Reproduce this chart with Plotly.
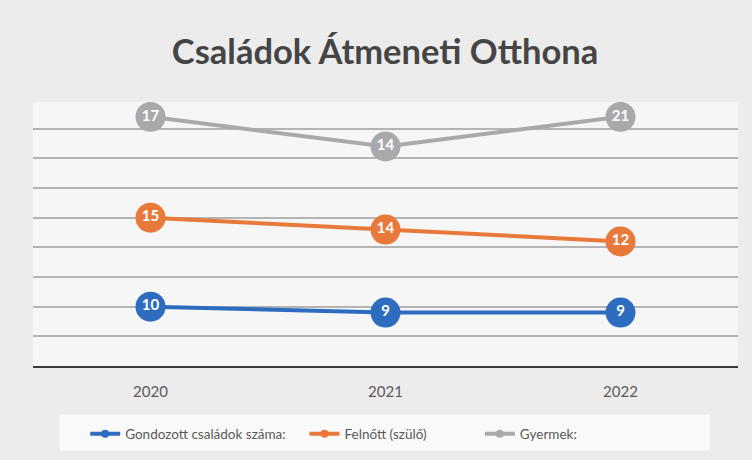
import plotly.graph_objects as go

years = ["2020", "2021", "2022"]
series_names = ["Gondozott családok száma:", "Felnőtt (szülő)", "Gyermek:"]
families = [10, 9, 9]
adults = [15, 14, 12]
children = [17, 14, 21]
colors = ["#2E6CC0", "#E8793A", "#A9A9AB"]
legend_pad = [4, 14, 0]

fig = go.Figure()
for name, vals, col in zip(series_names, [families, adults, children], colors):
    fig.add_trace(go.Scatter(
        x=years, y=vals, stackgroup="one", fill="none",
        mode="lines+markers+text",
        line=dict(color=col, width=4),
        marker=dict(size=30, color=col),
        text=[str(v) for v in vals], textposition="middle center",
        textfont=dict(family="Lato", size=15, color="white", weight="bold"),
        showlegend=False, hoverinfo="skip",
    ))
for name, col, pad in zip(series_names, colors, legend_pad):
    fig.add_trace(go.Scatter(
        x=[None], y=[None], mode="lines+markers", name=name + "\u00a0" * pad,
        line=dict(color=col, width=4), marker=dict(size=8, color=col),
    ))

fig.add_shape(type="rect", xref="paper", yref="paper", layer="below",
              x0=0.038, x1=0.960, y0=-0.321, y1=-0.185,
              fillcolor="#f9f9f9", line=dict(width=0))

fig.update_layout(
    width=752, height=460,
    margin=dict(l=33, r=14, t=102, b=93),
    paper_bgcolor="#ececec", plot_bgcolor="#f6f6f6",
    title=dict(text="Családok Átmeneti Otthona", x=0.512, xanchor="center",
               y=0.887, yanchor="middle",
               font=dict(family="Lato", size=34.5, color="#454545", weight="bold")),
    xaxis=dict(type="category", range=[-0.5, 2.5], showgrid=False,
               showline=True, linecolor="#3a3a3a", linewidth=2,
               ticks="outside", ticklen=11, tickcolor="rgba(0,0,0,0)",
               tickfont=dict(family="Lato", size=15, color="#5a5a5a")),
    yaxis=dict(range=[0, 44.5], dtick=5, showticklabels=False,
               gridcolor="#b4b4b4", gridwidth=1.5, zeroline=False),
    legend=dict(orientation="h", x=0.074, xanchor="left", y=-0.253, yanchor="middle",
                bgcolor="rgba(0,0,0,0)", font=dict(family="Lato", size=13.5, color="#5a5a5a")),
    showlegend=True,
)

fig.write_html("out.html", config={"displayModeBar": False},
               post_script="document.body.style.margin='0';window.dispatchEvent(new Event('resize'));")
